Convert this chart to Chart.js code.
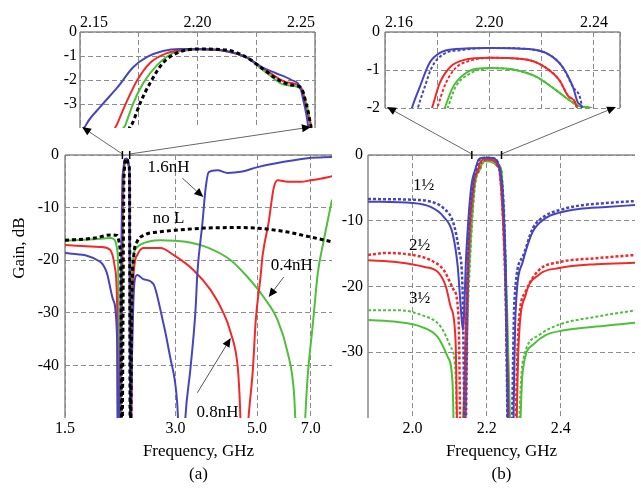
<!DOCTYPE html>
<html>
<head>
<meta charset="utf-8">
<script src="https://cdn.jsdelivr.net/npm/chart.js@4.4.0/dist/chart.umd.min.js"></script>
<style>
body { margin: 0; background: #fff; }
#wrap { position: relative; width: 641px; height: 494px; }
#wrap canvas { position: absolute; left: 0; top: 0; }
</style>
</head>
<body>
<div id="wrap">
  <canvas id="mainA" width="641" height="494"></canvas>
  <canvas id="insetA" width="641" height="494"></canvas>
  <canvas id="mainB" width="641" height="494"></canvas>
  <canvas id="insetB" width="641" height="494"></canvas>
  <canvas id="links" width="641" height="494"></canvas>
</div>
<script>
// colours and font
var BLUE = '#4646bc', RED = '#f02a2a', GREEN = '#4fbf3c', BLACK = '#000000';
var GRID = '#8c8c8c';
var SERIF = 'Liberation Serif';

// ---- (a) gain vs frequency for the series inductor, [GHz, dB] ----
var noL = [[1.5,-16.2],[1.8,-15.8],[2.0,-15.2],[2.08,-15.3],[2.11,-17],[2.13,-24],[2.142,-60],
  [2.1705,-4.3],[2.1723,-3.8],[2.1756,-2.96],[2.1798,-2.13],[2.1853,-1.29],[2.1912,-0.88],[2.1996,-0.71],[2.2122,-0.75],
  [2.2206,-1.04],[2.2273,-1.5],[2.2345,-2.0],[2.24,-2.21],[2.2441,-2.33],[2.2462,-2.96],[2.248,-3.8],[2.2485,-4.3],
  [2.258,-60],[2.28,-28],[2.31,-19],[2.36,-16.4],[2.45,-15.3],[2.73,-14.6],[3.0,-14.3],[3.6,-13.9],
  [4.5,-13.8],[5.0,-13.9],[6.0,-14.6],[7.0,-15.6],[8.0,-16.5]];
var l04 = [[1.5,-16.3],[1.8,-16.0],[2.0,-15.8],[2.05,-16.2],[2.08,-18],[2.095,-22.4],[2.11,-60],
  [2.1675,-4.3],[2.1693,-3.88],[2.1727,-2.96],[2.1769,-2.13],[2.1828,-1.38],[2.1895,-0.88],[2.1966,-0.75],[2.2008,-0.72],
  [2.2122,-0.8],[2.2206,-1.05],[2.229,-1.67],[2.2374,-2.21],[2.2429,-2.29],[2.2458,-2.83],[2.248,-3.75],[2.2485,-4.3],
  [2.258,-60],[2.29,-22],[2.33,-18],[2.40,-17.1],[2.73,-16.2],[3.2,-16.5],[3.7,-17.7],[4.24,-20],
  [4.71,-23.2],[5.21,-27],[5.69,-31.4],[6.06,-37.6],[6.30,-45],[6.52,-65],[6.88,-41.4],[7.10,-31.9],
  [7.32,-22.4],[7.6,-16.2],[8.0,-8.5]];
var l08 = [[1.5,-17.1],[1.87,-17.5],[1.99,-18],[2.05,-21.3],[2.08,-29],[2.095,-60],
  [2.164,-4.3],[2.166,-3.8],[2.1702,-2.83],[2.1744,-2.0],[2.1798,-1.29],[2.187,-0.88],[2.1937,-0.75],[2.2008,-0.72],
  [2.2122,-0.8],[2.2206,-1.05],[2.229,-1.58],[2.2374,-2.08],[2.2429,-2.21],[2.245,-2.54],[2.2462,-3.25],[2.248,-3.8],[2.2485,-4.3],
  [2.258,-60],[2.30,-24],[2.36,-19],[2.45,-17.7],[2.73,-17.7],[2.96,-19],[3.36,-21.9],[3.74,-25.7],
  [4.05,-30],[4.24,-33.8],[4.43,-40.3],[4.48,-45.6],[4.60,-65],[4.74,-50],[4.87,-40.9],[4.96,-31.4],
  [5.11,-23.2],[5.18,-19],[5.38,-12.7],[5.55,-6.3],[5.69,-4.8],[6.06,-5.1],[6.58,-5.1],[7.0,-4.8],
  [7.85,-4.2],[8.0,-4.0]];
var l16 = [[1.5,-18.6],[1.87,-20.3],[1.95,-22.4],[2.03,-27.6],[2.08,-35.2],[2.09,-60],
  [2.1508,-4.3],[2.1525,-3.88],[2.1588,-3.1],[2.166,-2.3],[2.1727,-1.46],[2.1786,-1.04],[2.1853,-0.79],[2.1924,-0.71],
  [2.2008,-0.71],[2.2122,-0.79],[2.2206,-1.04],[2.2273,-1.46],[2.2332,-1.71],[2.24,-2.0],[2.2437,-2.29],
  [2.245,-2.83],[2.2462,-3.38],[2.247,-3.88],[2.2473,-4.3],
  [2.258,-60],[2.28,-40],[2.32,-24],[2.36,-22.8],[2.45,-23.6],[2.61,-24.5],[2.73,-29.5],[2.90,-38.4],
  [3.03,-47],[3.12,-65],[3.19,-50],[3.29,-40.9],[3.40,-29.5],[3.44,-22.4],[3.55,-13],[3.62,-6.5],
  [3.69,-3.3],[3.90,-2.9],[4.16,-3.4],[4.51,-3.2],[5.02,-2.3],[5.91,-1.3],[6.87,-0.6],[8.0,-0.4]];

var aTicksX = [1.5, 3, 5, 7];
var aLabelsX = ['1.5', '3.0', '5.0', '7.0'];
var aTicksY = [0, -10, -20, -30, -40];
var aInsetTicksX = [2.15, 2.175, 2.2, 2.225, 2.25];
var aInsetLabelsX = ['2.15', '', '2.20', '', '2.25'];
var aInsetTicksY = [0, -1, -2, -3];

// ---- (b) gain for 1/2/3 half sections, solid and dotted, [GHz, dB] ----
var b1s = [[1.88,-7.1],[2.0,-7.3],[2.049,-7.9],[2.084,-9.4],[2.108,-11.9],[2.122,-17],[2.13,-23.1],[2.136,-26.6],
  [2.145,-15],[2.158,-5],[2.1703,-2],[2.1733,-1.45],[2.177,-0.82],[2.181,-0.55],[2.187,-0.45],[2.2,-0.42],
  [2.215,-0.45],[2.223,-0.6],[2.228,-0.92],[2.232,-1.45],[2.234,-1.87],[2.2355,-2],[2.25,-15],[2.265,-60],
  [2.278,-23.9],[2.297,-16.3],[2.324,-11.7],[2.359,-9.6],[2.395,-8.8],[2.449,-8.2],[2.522,-7.9],[2.603,-7.6]];
var b1d = [[1.88,-6.7],[2.0,-6.8],[2.049,-7.1],[2.084,-8.1],[2.11,-10.3],[2.125,-14.4],[2.135,-20.5],[2.142,-45],
  [2.15,-15],[2.162,-5],[2.1726,-2],[2.1752,-1.45],[2.178,-0.92],[2.182,-0.6],[2.19,-0.47],[2.2,-0.42],
  [2.215,-0.45],[2.223,-0.6],[2.228,-0.92],[2.232,-1.45],[2.2355,-2],[2.25,-15],[2.262,-60],
  [2.275,-22],[2.297,-15.5],[2.324,-11.2],[2.359,-9.2],[2.395,-8.4],[2.449,-7.7],[2.522,-7.3],[2.603,-7.0]];
var b2s = [[1.88,-16],[1.96,-16.3],[2.03,-17],[2.07,-17.9],[2.09,-20],[2.103,-23.1],[2.116,-28.1],[2.126,-60],
  [2.148,-18],[2.163,-5],[2.178,-2],[2.181,-1.34],[2.185,-0.92],[2.19,-0.74],[2.2,-0.68],[2.2126,-0.71],
  [2.22,-0.87],[2.2267,-1.26],[2.2305,-1.71],[2.2335,-2],[2.248,-15],[2.272,-60],
  [2.286,-28.9],[2.305,-21.3],[2.341,-18.2],[2.395,-17.2],[2.495,-16.6],[2.603,-16.4]];
var b2d = [[1.88,-15.2],[1.93,-14.9],[2.0,-15.2],[2.049,-16],[2.084,-17.5],[2.111,-20.5],[2.124,-24.6],[2.134,-60],
  [2.15,-18],[2.165,-5],[2.18,-2],[2.183,-1.39],[2.187,-0.95],[2.1924,-0.76],[2.2,-0.68],[2.2126,-0.71],
  [2.22,-0.87],[2.2267,-1.26],[2.2305,-1.71],[2.2335,-2],[2.248,-15],[2.268,-60],
  [2.286,-26],[2.305,-20.8],[2.341,-17.5],[2.395,-16.3],[2.495,-15.7],[2.603,-15.2]];
var b3s = [[1.88,-25.1],[1.96,-25.4],[2.022,-26.1],[2.068,-27.7],[2.095,-30.7],[2.108,-34.7],[2.118,-60],
  [2.15,-20],[2.167,-5],[2.1829,-2],[2.186,-1.45],[2.19,-1.13],[2.195,-0.97],[2.201,-0.95],[2.21,-1.0],
  [2.218,-1.18],[2.2255,-1.53],[2.2305,-1.79],[2.2355,-1.97],[2.239,-2],[2.25,-15],[2.278,-60],
  [2.297,-33],[2.324,-28.9],[2.359,-27.4],[2.405,-26.7],[2.495,-26.1],[2.603,-25.5]];
var b3d = [[1.88,-23.6],[1.96,-23.6],[2.022,-24.3],[2.076,-26.1],[2.103,-29.2],[2.116,-33.1],[2.126,-60],
  [2.152,-20],[2.168,-5],[2.184,-2],[2.187,-1.45],[2.1924,-1.1],[2.201,-0.95],[2.21,-1.0],[2.218,-1.18],
  [2.2255,-1.53],[2.2305,-1.79],[2.2355,-1.97],[2.239,-2],[2.25,-15],[2.272,-60],
  [2.292,-35],[2.297,-31.5],[2.341,-27.4],[2.395,-25.8],[2.495,-24.6],[2.603,-23.6]];

var bTicksX = [2.0, 2.2, 2.4];
var bLabelsX = ['2.0', '2.2', '2.4'];
var bTicksY = [0, -10, -20, -30];
var bInsetTicksX = [2.16, 2.18, 2.20, 2.22, 2.24, 2.25];
var bInsetLabelsX = ['2.16', '', '2.20', '', '2.24', ''];
var bInsetTicksY = [0, -1, -2];

// annotations (data coordinates)
var notesA = [
  { text: '1.6nH', x: 2.87, y: -2.3 },
  { text: 'no L', x: 2.87, y: -12.0 },
  { text: '0.4nH', x: 6.22, y: -21.1 },
  { text: '0.8nH', x: 3.90, y: -49.0 }
];
var arrowsA = [
  { from: [3.13, -4.4], to: [3.57, -8.0] },
  { from: [5.91, -23.2], to: [5.38, -27.0] },
  { from: [3.44, -45.2], to: [4.24, -34.8] }
];
var notesB = [
  { text: '1\u00bd', x: 2.03, y: -4.7 },
  { text: '2\u00bd', x: 2.019, y: -13.8 },
  { text: '3\u00bd', x: 2.019, y: -21.9 }
];

// Petite fonction pour une série
function lineSet(data, color, dash, width) {
  return {
    data: data,
    borderColor: color,
    borderWidth: width || 2,
    borderDash: dash || [],
    pointRadius: 0,
    fill: false,
    cubicInterpolationMode: 'monotone'
  };
}

function fixedTicks(list) {
  return function(scale) {
    scale.ticks = list.map(function(v) { return { value: v }; });
  };
}

function drawArrow(ctx, x1, y1, x2, y2, lineColor) {
  var ang = Math.atan2(y2 - y1, x2 - x1), len = 9, w = 4;
  var bx = x2 - Math.cos(ang) * len, by = y2 - Math.sin(ang) * len;
  ctx.strokeStyle = lineColor;
  ctx.lineWidth = 1;
  ctx.setLineDash([]);
  ctx.beginPath();
  ctx.moveTo(x1, y1);
  ctx.lineTo(bx, by);
  ctx.stroke();
  ctx.fillStyle = '#000';
  ctx.beginPath();
  ctx.moveTo(x2, y2);
  ctx.lineTo(bx + w * Math.sin(ang), by - w * Math.cos(ang));
  ctx.lineTo(bx - w * Math.sin(ang), by + w * Math.cos(ang));
  ctx.closePath();
  ctx.fill();
}

// cadre gris autour de la zone du graphique
function framePlugin(sides) {
  return {
    id: 'frame',
    beforeDatasetsDraw: function(chart) {
      var a = chart.chartArea, ctx = chart.ctx;
      ctx.save();
      ctx.strokeStyle = '#8a8a8a';
      ctx.lineWidth = 1.5;
      ctx.beginPath();
      if (sides.indexOf('top') >= 0) { ctx.moveTo(a.left, a.top); ctx.lineTo(a.right, a.top); }
      if (sides.indexOf('left') >= 0) { ctx.moveTo(a.left, a.top); ctx.lineTo(a.left, a.bottom); }
      if (sides.indexOf('right') >= 0) { ctx.moveTo(a.right, a.top); ctx.lineTo(a.right, a.bottom); }
      ctx.stroke();
      ctx.restore();
    }
  };
}

// textes et flèches placés avec les échelles
function notesPlugin(notes, arrows) {
  return {
    id: 'notes',
    afterDatasetsDraw: function(chart) {
      var xs = chart.scales.x, ys = chart.scales.y, ctx = chart.ctx;
      ctx.save();
      ctx.font = '17px "' + SERIF + '"';
      ctx.fillStyle = '#000';
      ctx.textAlign = 'center';
      ctx.textBaseline = 'middle';
      notes.forEach(function(n) {
        ctx.fillText(n.text, xs.getPixelForValue(n.x), ys.getPixelForValue(n.y));
      });
      (arrows || []).forEach(function(a) {
        drawArrow(ctx, xs.getPixelForValue(a.from[0]), ys.getPixelForValue(a.from[1]),
          xs.getPixelForValue(a.to[0]), ys.getPixelForValue(a.to[1]), '#555');
      });
      ctx.restore();
    }
  };
}

// titre vertical de l'axe y
function yTitlePlugin(text, x, y) {
  return {
    id: 'ytitle',
    afterDraw: function(chart) {
      var ctx = chart.ctx;
      ctx.save();
      ctx.translate(x, y);
      ctx.rotate(-Math.PI / 2);
      ctx.font = '17px "' + SERIF + '"';
      ctx.fillStyle = '#000';
      ctx.textAlign = 'center';
      ctx.textBaseline = 'middle';
      ctx.fillText(text, 0, 0);
      ctx.restore();
    }
  };
}

var tickFont = { family: SERIF, size: 16 };
var gridOpts = { color: GRID, lineWidth: 1, drawTicks: false };
var borderOpts = { display: false, dash: [5, 3] };

function baseOptions(padding, scales) {
  return {
    responsive: false,
    animation: false,
    devicePixelRatio: 1,
    layout: { padding: padding },
    plugins: { legend: { display: false }, tooltip: { enabled: false } },
    scales: scales
  };
}

// ---- (a) graphique principal ----
var mainA = new Chart(document.getElementById('mainA'), {
  type: 'line',
  data: {
    datasets: [
      lineSet(noL, BLACK, [4, 3], 3),
      lineSet(l16, BLUE),
      lineSet(l08, RED),
      lineSet(l04, GREEN)
    ]
  },
  options: baseOptions({ left: 5, right: 309, top: 155, bottom: 6 }, {
    x: {
      type: 'logarithmic', min: 1.5, max: 8, position: 'bottom',
      afterFit: function(s) { s.height = 70; },
      afterBuildTicks: fixedTicks(aTicksX),
      ticks: { callback: function(v, i) { return aLabelsX[i]; }, font: tickFont, color: '#000', padding: 1, autoSkip: false, maxRotation: 0 },
      grid: gridOpts, border: borderOpts,
      title: { display: true, text: ['Frequency, GHz', '(a)'], color: '#000', font: { family: SERIF, size: 17, lineHeight: 1.35 }, padding: { top: 0, bottom: 2 } }
    },
    y: {
      type: 'linear', min: -50, max: 0,
      afterFit: function(s) { s.width = 60; },
      afterBuildTicks: fixedTicks(aTicksY),
      ticks: { callback: function(v) { return String(v); }, font: tickFont, color: '#000', padding: 6, autoSkip: false },
      grid: gridOpts, border: borderOpts
    }
  }),
  plugins: [framePlugin(['top', 'left']), notesPlugin(notesA, arrowsA), yTitlePlugin('Gain, dB', 20, 248)]
});

// ---- (a) zoom sur la bande passante ----
var insetA = new Chart(document.getElementById('insetA'), {
  type: 'line',
  data: {
    datasets: [
      lineSet(noL, BLACK, [4, 3], 3),
      lineSet(l16, BLUE),
      lineSet(l08, RED),
      lineSet(l04, GREEN)
    ]
  },
  options: baseOptions({ left: 40, right: 326, top: 2, bottom: 366 }, {
    x: {
      type: 'linear', min: 2.15, max: 2.25, position: 'top',
      afterFit: function(s) { s.height = 30; },
      afterBuildTicks: fixedTicks(aInsetTicksX),
      ticks: { callback: function(v, i) { return aInsetLabelsX[i]; }, font: tickFont, color: '#000', padding: 0, align: 'inner', autoSkip: false, maxRotation: 0 },
      grid: gridOpts, border: borderOpts
    },
    y: {
      type: 'linear', min: -4, max: 0,
      afterFit: function(s) { s.width = 40; },
      afterBuildTicks: fixedTicks(aInsetTicksY),
      ticks: { callback: function(v) { return String(v); }, font: tickFont, color: '#000', padding: 3, autoSkip: false },
      grid: gridOpts, border: borderOpts
    }
  }),
  plugins: [framePlugin(['top', 'left', 'right'])]
});

// ---- (b) graphique principal ----
var mainB = new Chart(document.getElementById('mainB'), {
  type: 'line',
  data: {
    datasets: [
      lineSet(b1d, BLUE, [3, 2], 2.5),
      lineSet(b1s, BLUE),
      lineSet(b2d, RED, [3, 2], 2.5),
      lineSet(b2s, RED),
      lineSet(b3d, GREEN, [3, 2], 2),
      lineSet(b3s, GREEN)
    ]
  },
  options: baseOptions({ left: 323, right: 6, top: 155, bottom: 6 }, {
    x: {
      type: 'linear', min: 1.88, max: 2.6, position: 'bottom',
      afterFit: function(s) { s.height = 70; },
      afterBuildTicks: fixedTicks(bTicksX),
      ticks: { callback: function(v, i) { return bLabelsX[i]; }, font: tickFont, color: '#000', padding: 1, autoSkip: false, maxRotation: 0 },
      grid: gridOpts, border: borderOpts,
      title: { display: true, text: ['Frequency, GHz', '(b)'], color: '#000', font: { family: SERIF, size: 17, lineHeight: 1.35 }, padding: { top: 0, bottom: 2 } }
    },
    y: {
      type: 'linear', min: -40, max: 0,
      afterFit: function(s) { s.width = 45; },
      afterBuildTicks: fixedTicks(bTicksY),
      ticks: { callback: function(v) { return String(v); }, font: tickFont, color: '#000', padding: 5, autoSkip: false },
      grid: gridOpts, border: borderOpts
    }
  }),
  plugins: [framePlugin(['top', 'left']), notesPlugin(notesB, [])]
});

// ---- (b) zoom sur la bande passante ----
var insetB = new Chart(document.getElementById('insetB'), {
  type: 'line',
  data: {
    datasets: [
      lineSet(b1d, BLUE, [3, 2], 2),
      lineSet(b1s, BLUE),
      lineSet(b2d, RED, [3, 2], 2),
      lineSet(b2s, RED),
      lineSet(b3d, GREEN, [3, 2], 2),
      lineSet(b3s, GREEN)
    ]
  },
  options: baseOptions({ left: 345, right: 21, top: 2, bottom: 386 }, {
    x: {
      type: 'linear', min: 2.16, max: 2.25, position: 'top',
      afterFit: function(s) { s.height = 30; },
      afterBuildTicks: fixedTicks(bInsetTicksX),
      ticks: { callback: function(v, i) { return bInsetLabelsX[i]; }, font: tickFont, color: '#000', padding: 0, align: 'inner', autoSkip: false, maxRotation: 0 },
      grid: gridOpts, border: borderOpts
    },
    y: {
      type: 'linear', min: -2, max: 0,
      afterFit: function(s) { s.width = 40; },
      afterBuildTicks: fixedTicks(bInsetTicksY),
      ticks: { callback: function(v) { return String(v); }, font: tickFont, color: '#000', padding: 5, autoSkip: false },
      grid: gridOpts, border: borderOpts
    }
  }),
  plugins: [framePlugin(['top', 'left', 'right'])]
});

// Flèches reliant la bande passante aux zooms
var lc = document.getElementById('links').getContext('2d');
function linkInset(main, inset, fLow, fHigh) {
  var a = main.chartArea, b = inset.chartArea;
  var x1 = main.scales.x.getPixelForValue(fLow);
  var x2 = main.scales.x.getPixelForValue(fHigh);
  drawArrow(lc, x1, a.top - 1, b.left + 2, b.bottom - 1, '#666');
  drawArrow(lc, x2, a.top - 1, b.right - 4, b.bottom - 1, '#666');
  lc.strokeStyle = '#000';
  lc.lineWidth = 1.5;
  [x1, x2].forEach(function(x) {
    lc.beginPath();
    lc.moveTo(x, a.top - 4);
    lc.lineTo(x, a.top + 4);
    lc.stroke();
  });
}
linkInset(mainA, insetA, 2.15, 2.25);
linkInset(mainB, insetB, 2.16, 2.24);
</script>
</body>
</html>
